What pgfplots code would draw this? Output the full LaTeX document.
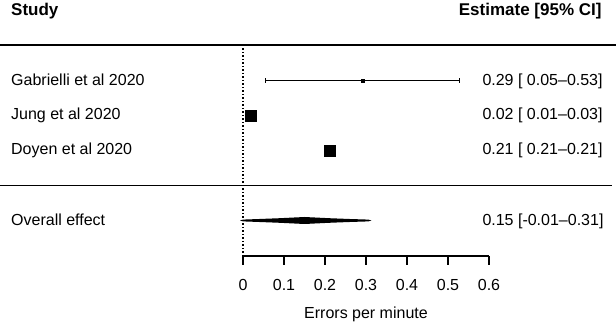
\documentclass[border=0pt]{standalone}
\usepackage{pgfplots}
\pgfplotsset{compat=1.18}
\usepackage{fontspec}
\setmainfont{Liberation Sans}
\newcommand{\f}{\fontsize{16bp}{19bp}\selectfont}
\newcommand{\fh}{\fontsize{17bp}{20bp}\selectfont\bfseries}
\begin{document}
\begin{tikzpicture}[font=\f]
\begin{axis}[
  scale only axis, width=246bp, height=211bp,
  xmin=0, xmax=0.6, ymin=-256, ymax=-45,
  axis x line*=bottom, axis y line=none,
  clip=false,
  xtick={0,0.1,0.2,0.3,0.4,0.5,0.6},
  xticklabels={0,0.1,0.2,0.3,0.4,0.5,0.6},
  tick align=outside, major tick length=9bp,
  x axis line style={line width=1.2bp, -},
  every tick/.style={black, line width=1.2bp},
  xticklabel style={font=\f, anchor=base, yshift=-26bp},
  xlabel={Errors per minute},
  xlabel style={font=\f, at={(axis description cs:0.5,0)}, anchor=base, yshift=-63bp},
]
% separators
\addplot[black, line width=1.4bp] coordinates {(-0.5927,-45) (0.9098,-45)};
\addplot[black, line width=1.4bp] coordinates {(-0.5927,-185.7) (0.9000,-185.7)};
% null line
\addplot[black, line width=1.1bp, dash pattern=on 1.1bp off 2.4bp] coordinates {(0,-45) (0,-256)};
% Gabrielli
\addplot[black, line width=1bp, mark=|, mark size=2.2bp, mark options={solid, line width=1bp}] coordinates {(0.055,-80.5) (0.527,-80.5)};
\addplot[black, only marks, mark=square*, mark size=1.4bp] coordinates {(0.291,-80.5)};
% Jung, Doyen
\addplot[black, only marks, mark=square*, mark size=5.6bp] coordinates {(0.0188,-115.7) (0.2105,-150.7)};
% overall effect
\addplot[fill=black, draw=none] coordinates {
 (-0.007,-220.5) (0.00,-219.6) (0.04,-219.0) (0.09,-218.2) (0.15,-217.0)
 (0.21,-218.2) (0.26,-219.0) (0.306,-219.6) (0.313,-220.5)
 (0.306,-221.4) (0.26,-222.0) (0.21,-222.8) (0.15,-224.0)
 (0.09,-222.8) (0.04,-222.0) (0.00,-221.4) (-0.007,-220.5)} -- cycle;
% texts
\node[anchor=base west, inner sep=0pt, font=\fh] at (axis cs:-0.5659,-16) {Study};
\node[anchor=base east, inner sep=0pt, font=\fh] at (axis cs:0.875,-16) {Estimate [95\% CI]};
\node[anchor=base west, inner sep=0pt] at (axis cs:-0.5659,-85.5) {Gabrielli et al 2020};
\node[anchor=base west, inner sep=0pt] at (axis cs:-0.5659,-120) {Jung et al 2020};
\node[anchor=base west, inner sep=0pt] at (axis cs:-0.5659,-155) {Doyen et al 2020};
\node[anchor=base west, inner sep=0pt] at (axis cs:-0.5659,-225.3) {Overall effect};
\node[anchor=base west, inner sep=0pt] at (axis cs:0.5837,-85.5) {0.29 [ 0.05--0.53]};
\node[anchor=base west, inner sep=0pt] at (axis cs:0.5837,-120) {0.02 [ 0.01--0.03]};
\node[anchor=base west, inner sep=0pt] at (axis cs:0.5837,-155) {0.21 [ 0.21--0.21]};
\node[anchor=base west, inner sep=0pt] at (axis cs:0.5837,-225.3) {0.15 [-0.01--0.31]};
\coordinate (bl) at (axis cs:-0.5927,-324);
\coordinate (tr) at (axis cs:0.9098,0);
\end{axis}
\pgfresetboundingbox
\path[use as bounding box] (bl) rectangle (tr);
\end{tikzpicture}
\end{document}
